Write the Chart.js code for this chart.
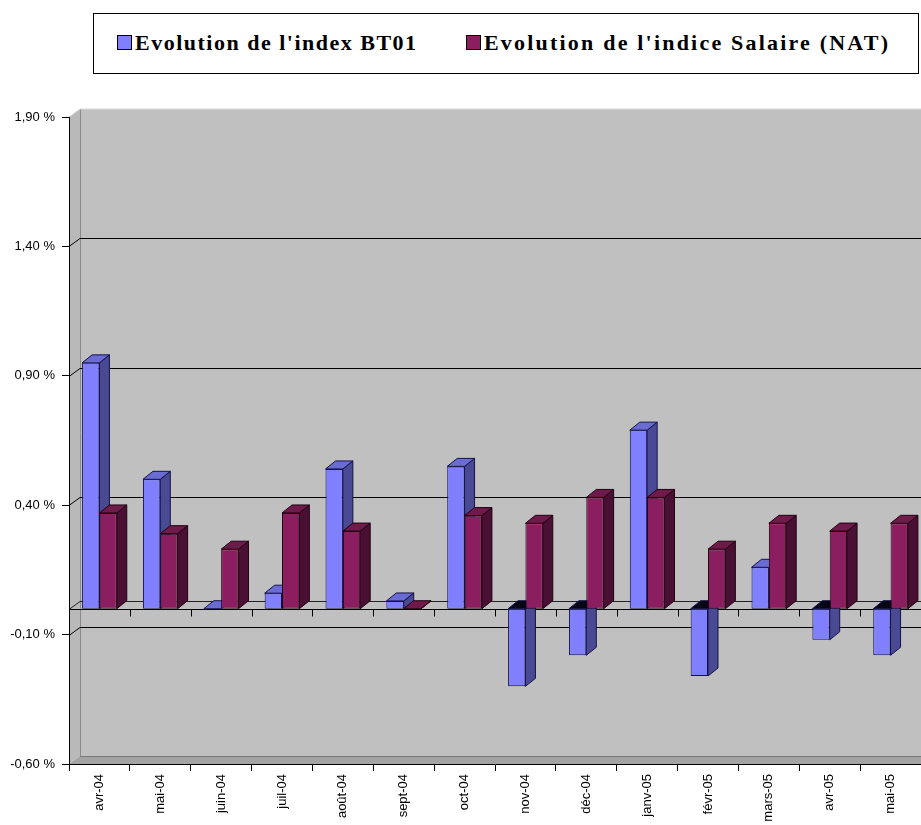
<!DOCTYPE html>
<html>
<head>
<meta charset="utf-8">
<script src="https://cdn.jsdelivr.net/npm/chart.js@4/dist/chart.umd.min.js"></script>
<style>
  body { margin: 0; background: #fff; }
  #wrap { position: relative; width: 921px; height: 825px; }
  #graphique { position: absolute; left: 0; top: 0; }
  #legende { position: absolute; left: 93px; top: 13px; width: 824px; height: 59px; border: 1px solid #000; background: #fff;
             font: bold 22px "Liberation Serif", "Times New Roman", serif; color: #000; }
  .item { position: absolute; top: 16px; white-space: nowrap; }
  .carre { display: inline-block; width: 13px; height: 13px; border: 1px solid #000; margin-right: 3px; }
</style>
</head>
<body>
<div id="wrap">
  <canvas id="graphique" width="921" height="825"></canvas>
  <div id="legende"></div>
</div>
<script>
// données (en %)
const categories = ['avr-04', 'mai-04', 'juin-04', 'juil-04', 'août-04', 'sept-04', 'oct-04',
                    'nov-04', 'déc-04', 'janv-05', 'févr-05', 'mars-05', 'avr-05', 'mai-05'];
const bt01 = [0.95, 0.50, 0.00, 0.06, 0.54, 0.03, 0.55, -0.30, -0.18, 0.69, -0.26, 0.16, -0.12, -0.18];
const salaire = [0.37, 0.29, 0.23, 0.37, 0.30, 0.00, 0.36, 0.33, 0.43, 0.43, 0.23, 0.33, 0.30, 0.33];
const yTicks = [-0.6, -0.1, 0.4, 0.9, 1.4, 1.9];
const seriesLabels = ["Evolution de l'index BT01", "Evolution de l'indice Salaire (NAT)"];

const couleurs = [
  { face: '#8080ff', cote: '#4a4a94', dessus: '#6b6bd4', bord: '#12124a' },
  { face: '#8a1e5e', cote: '#4a1034', dessus: '#6e1a4a', bord: '#200010' }
];

// légende html
const legende = document.getElementById('legende');
[[23, 1.5], [372, 2.2]].forEach(([gauche, esp], i) => {
  legende.innerHTML += `<div class="item" style="left:${gauche}px;letter-spacing:${esp}px"><span class="carre" style="background:${couleurs[i].face}"></span>${seriesLabels[i]}</div>`;
});

function poly(ctx, pts, fill, stroke) {
  ctx.beginPath();
  ctx.moveTo(pts[0][0], pts[0][1]);
  pts.slice(1).forEach(p => ctx.lineTo(p[0], p[1]));
  ctx.closePath();
  if (fill) { ctx.fillStyle = fill; ctx.fill(); }
  if (stroke) { ctx.strokeStyle = stroke; ctx.lineWidth = 1; ctx.stroke(); }
}

function ligne(ctx, pts, couleur) {
  ctx.beginPath();
  ctx.moveTo(pts[0][0], pts[0][1]);
  pts.slice(1).forEach(p => ctx.lineTo(p[0], p[1]));
  ctx.strokeStyle = couleur;
  ctx.lineWidth = 1;
  ctx.stroke();
}

// murs, quadrillage et plan zéro façon Excel 3D
const murs3d = {
  id: 'murs3d',
  beforeDraw(chart) {
    const { ctx, chartArea: a, scales: { x, y } } = chart;
    const dx = 11, dy = 8;
    ctx.save();
    ctx.fillStyle = '#c0c0c0';
    ctx.fillRect(a.left + dx, a.top - dy, a.right - a.left, a.bottom - a.top);
    poly(ctx, [[a.left, a.top], [a.left + dx, a.top - dy], [a.left + dx, a.bottom - dy], [a.left, a.bottom]], '#b9b9b9');
    poly(ctx, [[a.left, a.bottom], [a.left + dx, a.bottom - dy], [a.right + dx, a.bottom - dy], [a.right, a.bottom]], '#a3a3a3');
    ligne(ctx, [[a.left + dx + 0.5, a.top - dy], [a.left + dx + 0.5, a.bottom - dy]], '#8a8a8a');
    ligne(ctx, [[a.left, a.top], [a.left + dx, a.top - dy], [a.right + dx, a.top - dy]], '#d8d8d8');
    ligne(ctx, [[a.left + dx, a.bottom - dy + 0.5], [a.right + dx, a.bottom - dy + 0.5]], '#7a7a7a');

    yTicks.forEach(v => {
      if (v <= yTicks[0] || v >= yTicks[yTicks.length - 1]) return;
      const py = Math.round(y.getPixelForValue(v)) + 0.5;
      ligne(ctx, [[a.left, py], [a.left + dx, py - dy], [a.right + dx, py - dy]], '#000');
    });

    const z = Math.round(y.getPixelForValue(0)) + 0.5;
    ligne(ctx, [[a.left, z], [a.left + dx, z - dy], [a.right + dx, z - dy]], '#222');
    ligne(ctx, [[a.left, z], [a.right, z]], '#000');
    const pas = (a.right - a.left) / categories.length;
    categories.forEach((c, i) => {
      const bx = Math.round(x.getPixelForValue(i) + pas / 2) + 0.5;
      ligne(ctx, [[bx, z], [bx, z + 7]], '#000');
    });
    ctx.restore();
  },
  beforeDatasetsDraw(chart) {
    const { ctx } = chart;
    const dx = 10, dy = 8;
    ctx.save();
    chart.data.datasets.forEach((ds, d) => {
      const c = couleurs[d];
      chart.getDatasetMeta(d).data.forEach(el => {
        const p = el.getProps(['x', 'y', 'base', 'width'], true);
        const g = p.x - p.width / 2, dr = p.x + p.width / 2;
        const haut = Math.min(p.y, p.base), bas = Math.max(p.y, p.base);
        const negatif = p.y > p.base;
        poly(ctx, [[dr, haut], [dr + dx, haut - dy], [dr + dx, bas - dy], [dr, bas]], c.cote, c.bord);
        poly(ctx, [[g, haut], [g + dx, haut - dy], [dr + dx, haut - dy], [dr, haut]], negatif ? '#050515' : c.dessus, c.bord);
      });
    });
    ctx.restore();
  }
};

new Chart(document.getElementById('graphique'), {
  type: 'bar',
  data: {
    labels: categories,
    datasets: [bt01, salaire].map((serie, i) => ({
      label: seriesLabels[i],
      data: serie,
      backgroundColor: couleurs[i].face,
      borderColor: couleurs[i].bord,
      borderWidth: 1,
      borderSkipped: false,
      categoryPercentage: 0.57,
      barPercentage: 1
    }))
  },
  options: {
    responsive: false,
    animation: false,
    layout: { padding: { top: 117, right: 0, left: 0, bottom: 0 } },
    plugins: { legend: { display: false }, tooltip: { enabled: false } },
    scales: {
      x: {
        afterFit: s => { s.height = 61; },
        grid: { drawOnChartArea: false, drawTicks: true, tickLength: 7, color: '#000' },
        border: { display: true, color: '#000' },
        ticks: { color: '#000', minRotation: 90, maxRotation: 90, padding: 3,
                 font: { family: '"Liberation Sans", Arial, sans-serif', size: 13 } }
      },
      y: {
        min: -0.6,
        max: 1.9,
        afterBuildTicks: s => { s.ticks = yTicks.map(v => ({ value: v })); },
        afterFit: s => { s.width = 69; },
        grid: { drawOnChartArea: false, drawTicks: true, tickLength: 7, color: '#000' },
        border: { display: true, color: '#000' },
        ticks: { color: '#000', padding: 7,
                 font: { family: '"Liberation Sans", Arial, sans-serif', size: 13 },
                 callback: v => v.toFixed(2).replace('.', ',') + ' %' }
      }
    }
  },
  plugins: [murs3d]
});
</script>
</body>
</html>
